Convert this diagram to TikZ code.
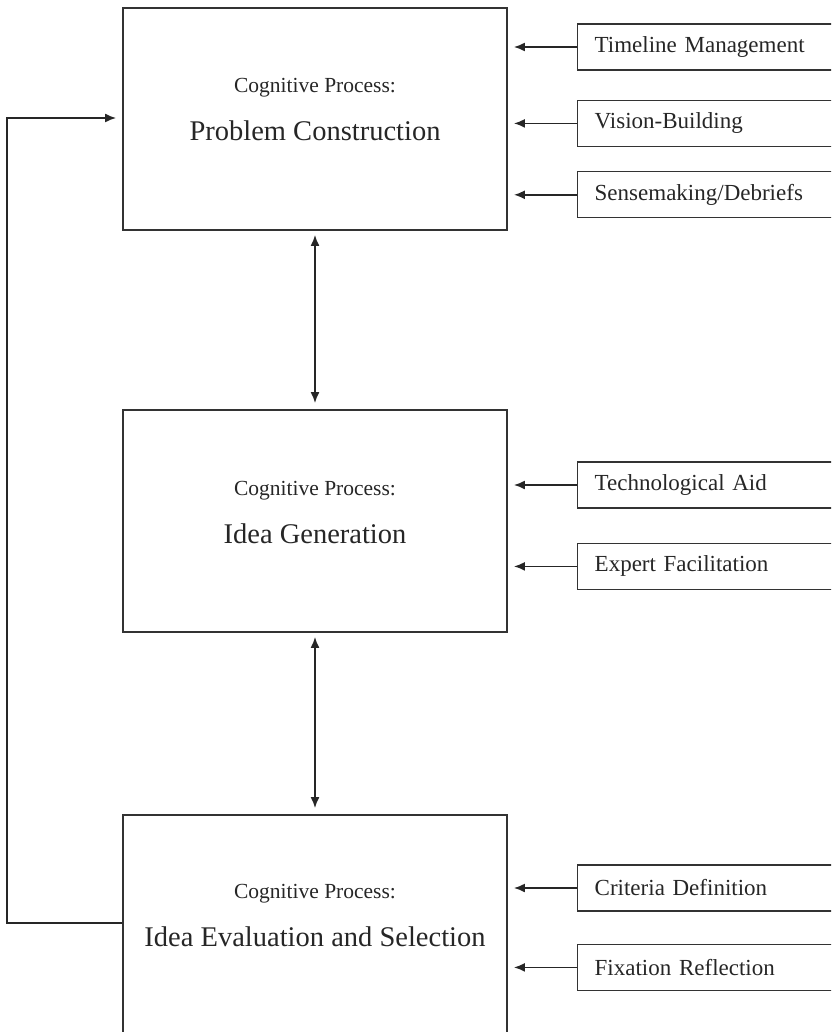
\documentclass[tikz,border=0pt]{standalone}
\usepackage{fontspec}
\setmainfont{Liberation Serif}
\usetikzlibrary{arrows.meta,positioning,calc}

\tikzset{
	process/.style={draw=black!80, line width=1.8pt, minimum width=384pt, minimum height=222pt, inner sep=0pt},
	proctext/.style={align=center, text=black!85, font=\fontsize{28.5}{34}\selectfont},
	factor/.style={draw=black!80, line width=1.4pt, anchor=west, minimum height=46pt, text width=290pt, inner xsep=17pt, align=left, text=black!85, font=\fontsize{23}{27}\selectfont},
	feed/.style={line width=1.7pt, draw=black!85, -{Latex[length=11pt,width=9pt]}, shorten >=6pt},
	both/.style={line width=1.7pt, draw=black!85, {Latex[length=11pt,width=9pt]}-{Latex[length=11pt,width=9pt]}, shorten >=6pt, shorten <=4pt},
}
\newcommand{\cogproc}[1]{{\fontsize{21.5}{26}\selectfont Cognitive Process:}\\[14pt]#1}

\begin{document}
\begin{tikzpicture}[x=1pt,y=-1pt]
		\useasboundingbox (0,0) rectangle (831,1032);
		\clip (0,0) rectangle (831,1032);
		% the three processes
		\node[process] (pc) at (315,119) {};
		\node[process] (ig) at (315,521) {};
		\node[process] (ies) at (315,926) {};
		\node[proctext] (pc-txt) at ($(pc.center)+(0,-9)$) {\cogproc{Problem Construction}};
		\node[proctext] (ig-txt) at ($(ig.center)+(0,-8)$) {\cogproc{Idea Generation}};
		\node[proctext] (ies-txt) at ($(ies.center)+(0,-10)$) {\cogproc{Idea Evaluation and Selection}};
		%
		\node[factor] (tm) at (577,47) {Timeline Management};
		\node[factor,below=29pt of tm.south west,anchor=north west] (vb) {Vision-Building};
		\node[factor,below=24pt of vb.south west,anchor=north west] (sd) {Sensemaking/Debriefs};
		\node[factor] (ta) at (577,485) {Technological Aid};
		\node[factor,below=34pt of ta.south west,anchor=north west] (ef) {Expert Facilitation};
		\node[factor] (cd) at (577,888) {Criteria Definition};
		\node[factor,below=32pt of cd.south west,anchor=north west] (fr) {Fixation Reflection};
		%
		\foreach \f in {tm,vb,sd}
			\draw[feed] (\f.west) -- (\f.west -| pc.east);
		\foreach \f in {ta,ef}
			\draw[feed] (\f.west) -- (\f.west -| ig.east);
		\foreach \f in {cd,fr}
			\draw[feed] (\f.west) -- (\f.west -| ies.east);
		%
		\draw[both] (pc.south) -- (ig.north);
		\draw[both] (ig.south) -- (ies.north);
		\draw[feed] ($(ies.west)+(0,-3)$) -- ++(-115,0) |- ($(pc.west)+(0,-1)$);
	\end{tikzpicture}
\end{document}
